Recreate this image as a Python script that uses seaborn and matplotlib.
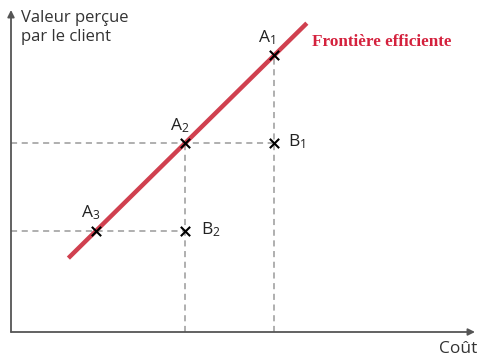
import matplotlib
matplotlib.use("Agg")
import matplotlib.pyplot as plt
import seaborn as sns
import pandas as pd

# Data (in abstract units)
frontier_x = [0.69, 3.37]
frontier_y = [0.69, 3.36]
a_labels = ["A$_1$", "A$_2$", "A$_3$"]
a_x = [3, 2, 1]
a_y = [3, 2, 1]
b_labels = ["B$_1$", "B$_2$"]
b_x = [3, 2]
b_y = [2, 1]
xlabel = "Coût"
ylabel = "Valeur perçue\npar le client"
frontier_label = "Frontière efficiente"

sns.set_theme(style="white")
plt.rcParams['font.family'] = ['Open Sans', 'DejaVu Sans']
plt.rcParams['mathtext.fontset'] = 'custom'
plt.rcParams['mathtext.rm'] = 'Open Sans'
plt.rcParams['mathtext.it'] = 'Open Sans'

W, H = 480, 358
fig = plt.figure(figsize=(W / 100, H / 100), dpi=100)
ax = fig.add_axes([11 / W, (H - 332) / H, (475 - 11) / W, (332 - 10) / H])
xmin, xmax = 0.045, 5.26
ymin, ymax = -0.15, 3.51
ax.set_xlim(xmin, xmax)
ax.set_ylim(ymin, ymax)

grey = "#9a9a9a"
# dashed guides
for x, y in zip(a_x[:2], a_y[:2]):
    ax.plot([x, x], [ymin, y], ls=(0, (4, 3)), color=grey, lw=1.1, zorder=1)
for x, y in zip(b_x, b_y):
    ax.plot([xmin, x], [y, y], ls=(0, (4, 3)), color=grey, lw=1.1, zorder=1)

fr = pd.DataFrame({"x": frontier_x, "y": frontier_y})
sns.lineplot(data=fr, x="x", y="y", ax=ax, color="#d0404f", lw=3.2,
             solid_capstyle="butt", zorder=3)

pts = pd.DataFrame({"x": a_x + b_x, "y": a_y + b_y})
sns.scatterplot(data=pts, x="x", y="y", ax=ax, marker="x", color="black",
                s=45, linewidth=1.5, zorder=5)

a_off = [(-7, 17), (-5, 17), (-5, 18)]
for lab, x, y, off in zip(a_labels, a_x, a_y, a_off):
    ax.annotate(lab, (x, y), xytext=off, textcoords="offset pixels",
                ha="center", va="center", fontsize=12.5, color="#222222")
b_off = [(23, 1), (26, 1)]
for lab, x, y, off in zip(b_labels, b_x, b_y, b_off):
    ax.annotate(lab, (x, y), xytext=off, textcoords="offset pixels",
                ha="center", va="center", fontsize=12.5, color="#222222")

for s in ax.spines.values():
    s.set_visible(False)
ax.set_xticks([])
ax.set_yticks([])
ax.set_xlabel("")
ax.set_ylabel("")

axis_c = "#555555"
ax.annotate("", xy=(1.0, 0), xytext=(0, 0), xycoords="axes fraction",
            arrowprops=dict(arrowstyle="-|>", color=axis_c, lw=1.3,
                            mutation_scale=10, shrinkA=0, shrinkB=0))
ax.annotate("", xy=(0, 1.0), xytext=(0, 0), xycoords="axes fraction",
            arrowprops=dict(arrowstyle="-|>", color=axis_c, lw=1.3,
                            mutation_scale=10, shrinkA=0, shrinkB=0))

fig.text(21 / W, 1 - 10 / H, ylabel, ha="left", va="top", fontsize=12,
         color="#333333", linespacing=1.25)
fig.text(477 / W, 1 - 349 / H, xlabel, ha="right", va="center", fontsize=12.5,
         color="#333333")
fig.text(312 / W, 1 - 42 / H, frontier_label, ha="left", va="center",
         fontsize=12.3, color="#d4213d", family="Liberation Serif",
         weight="bold")

fig.savefig("out.png", dpi=100)
